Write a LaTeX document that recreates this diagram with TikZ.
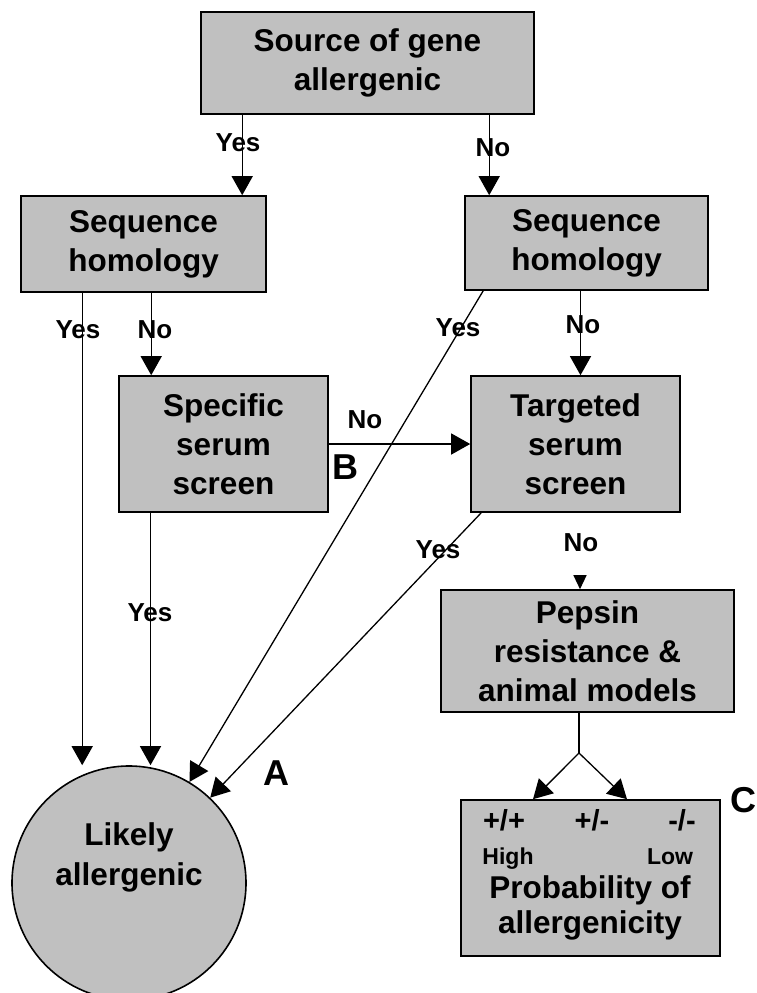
\documentclass[tikz,border=0pt]{standalone}
\usepackage{fontspec}
\setmainfont{Liberation Sans}
\usepackage{tikz}
\usetikzlibrary{arrows.meta,calc,positioning}
\definecolor{boxgray}{HTML}{C0C0C0}

\begin{document}
\begin{tikzpicture}[x=1pt,y=-1pt,
  box/.style={draw=black,line width=1.6pt,fill=boxgray,align=center,inner sep=0pt,
    font=\fontsize{31.5}{39}\selectfont\bfseries},
  arr/.style={line width=1.3pt,-{Triangle[length=19pt,width=21pt]}},
  lbl/.style={font=\fontsize{26}{28}\selectfont\bfseries,inner sep=0pt},
  small/.style={font=\fontsize{23}{26}\selectfont\bfseries,inner sep=0pt,anchor=base},
  sign/.style={font=\fontsize{29}{32}\selectfont\bfseries,inner sep=0pt,anchor=base},
  tag/.style={font=\fontsize{36}{40}\selectfont\bfseries,inner sep=0pt}]
\useasboundingbox[fill=white] (0,0) rectangle (757,993);

% boxes
\node[box,minimum width=333pt,minimum height=102pt] (src) at (367.5,63) {Source of gene\\allergenic};
\node[box,minimum width=245pt,minimum height=96pt] (seqL) at (143.5,244) {Sequence\\homology};
\node[box,minimum width=243pt,minimum height=94pt] (seqR) at (586.5,243) {Sequence\\homology};
\node[box,minimum width=209pt,minimum height=136pt] (spec) at (223.5,444) {Specific\\serum\\screen};
\node[box,minimum width=209pt,minimum height=136pt] (targ) at (575.5,444) {Targeted\\serum\\screen};
\node[box,minimum width=293pt,minimum height=122pt] (pep) at (587.5,651) {Pepsin\\resistance \&\\animal models};
\node[box,minimum width=259pt,minimum height=156pt] (prob) at (590.5,878) {};
\node[box,circle,minimum size=234pt] (likely) at (129,883) {};
\node[align=center,inner sep=0pt,font=\fontsize{31.5}{40}\selectfont\bfseries] (likelytxt) at (129,857) {Likely\\allergenic};

% text inside prob
\node[sign] (pp) at (504,830) {+/+};
\node[sign] (pm) at (592,830) {+/-};
\node[sign] (mm) at (682,830) {-/-};
\node[small] (high) at (508,864) {High};
\node[small] (low) at (670,864) {Low};
\node[align=center,inner sep=0pt,anchor=base,font=\fontsize{31.5}{35}\selectfont\bfseries] (probtxt) at (590,933) {Probability of\\allergenicity};

% yes / no labels
\node[lbl] (yes1) at (238,143) {Yes};
\node[lbl] (no1) at (493,148) {No};
\node[lbl] (yes2) at (78,330) {Yes};
\node[lbl] (no2) at (155,330) {No};
\node[lbl] (yes3) at (458,328) {Yes};
\node[lbl] (no3) at (583,325) {No};
\node[lbl] (no4) at (365,420) {No};
\node[lbl] (yes4) at (150,613) {Yes};
\node[lbl] (yes5) at (438,550) {Yes};
\node[lbl] (no5) at (581,543) {No};

% panel letters
\node[tag] (tagA) at (276,773) {A};
\node[tag] (tagB) at (345,467) {B};
\node[tag] (tagC) at (743,800) {C};

% connectors
\draw[arr] ([xshift=42pt]src.south west) -- ([xshift=42pt]src.south west |- seqL.north);
\draw[arr] ([xshift=289pt]src.south west) -- ([xshift=289pt]src.south west |- seqR.north);
\draw[arr] ([xshift=62pt]seqL.south west) -- ([xshift=62pt]seqL.south west |- likely.north);
\draw[arr] ([xshift=131pt]seqL.south west) -- ([xshift=131pt]seqL.south west |- spec.north);
\draw[arr] ([xshift=19pt]seqR.south west) -- (likely);
\draw[arr] ([xshift=-6pt]seqR.south) -- ([xshift=-6pt]seqR.south |- targ.north);
\draw[arr] (spec.east) -- (targ.west);
\draw[arr] ([xshift=-73pt]spec.south) -- ([xshift=-73pt]spec.south |- likely.north);
\draw[arr] ([xshift=11pt]targ.south west) -- (likely);
\draw[arr,shorten <=64pt,-{Triangle[length=14pt,width=13pt]}] ([xshift=4.5pt]targ.south) -- ([xshift=4.5pt]targ.south |- pep.north);
\coordinate (split) at (579,753);
\draw[line width=1.3pt] ([xshift=-8.5pt]pep.south) -- (split);
\draw[arr] (split) -- ([xshift=-57.5pt]prob.north);
\draw[arr] (split) -- ([xshift=36.5pt]prob.north);
\end{tikzpicture}
\end{document}
